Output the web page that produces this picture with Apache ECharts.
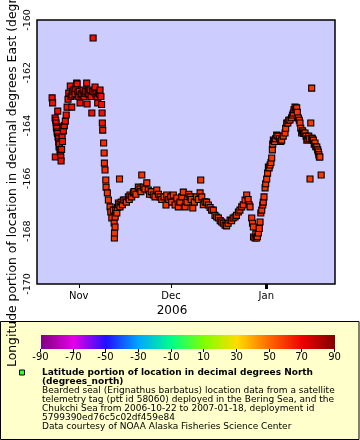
<!DOCTYPE html>
<html>
<head>
<meta charset="utf-8">
<script src="https://cdn.jsdelivr.net/npm/echarts@6/dist/echarts.min.js"></script>
<style>html,body{margin:0;padding:0;background:#fff}#c{width:360px;height:440px}</style>
</head>
<body>
<div id="c"></div>
<script>
// [time (UTC), longitude (deg E), latitude (deg N)]
const octFixes = [
['2006-10-23T08',-162.95,67],['2006-10-23T12',-163.14,67],['2006-10-24T07',-163.71,67],['2006-10-24T09',-165.19,67],
['2006-10-24T12',-163.80,67],['2006-10-24T15',-163.90,67],['2006-10-24T17',-164.05,67],['2006-10-24T19',-164.10,67],
['2006-10-24T23',-164.24,67],['2006-10-25T02',-164.30,67],['2006-10-25T04',-163.45,67],['2006-10-25T06',-164.43,67],
['2006-10-25T10',-164.50,67],['2006-10-25T12',-164.62,67],['2006-10-25T14',-164.81,67],['2006-10-25T17',-164.70,67],
['2006-10-25T22',-164.92,67],['2006-10-26T00',-165.00,67],['2006-10-26T04',-165.19,67],['2006-10-26T06',-165.34,67],
['2006-10-26T10',-164.90,67],['2006-10-26T14',-164.43,67],['2006-10-26T17',-164.60,67],['2006-10-26T21',-164.05,67],
['2006-10-27T00',-164.20,67],['2006-10-27T07',-164.00,67],['2006-10-27T15',-163.83,67],['2006-10-27T22',-163.60,67],
['2006-10-28T05',-163.30,67],['2006-10-28T12',-163.00,67],['2006-10-28T18',-162.77,67],['2006-10-29T06',-162.50,67],
['2006-10-29T12',-162.90,67],['2006-10-29T17',-163.30,67],['2006-10-29T20',-162.84,67],['2006-10-30T00',-162.70,67],
['2006-10-30T11',-162.65,67],['2006-10-30T19',-162.80,67],['2006-10-31T00',-162.60,67],['2006-10-31T08',-162.39,67],
['2006-10-31T11',-162.42,67],['2006-10-31T18',-162.73,67]
];
const novFixes = [
['2006-11-01T00',-162.90,67],['2006-11-01T05',-162.70,67],['2006-11-01T10',-163.14,67],['2006-11-01T18',-162.84,67],
['2006-11-02T00',-162.80,67],['2006-11-02T10',-162.65,67],['2006-11-02T17',-162.90,67],['2006-11-03T01',-162.77,67],
['2006-11-03T07',-162.70,67],['2006-11-03T14',-162.39,67],['2006-11-03T17',-163.18,67],['2006-11-04T00',-162.73,67],
['2006-11-04T07',-162.80,67],['2006-11-04T16',-162.65,67],['2006-11-05T00',-162.90,67],['2006-11-05T06',-163.52,67],
['2006-11-05T10',-162.70,67],['2006-11-05T16',-160.68,67],['2006-11-05T23',-162.73,67],['2006-11-06T07',-162.54,67],
['2006-11-06T14',-162.80,67],['2006-11-07T00',-162.90,67],['2006-11-07T04',-163.14,67],['2006-11-07T12',-162.77,67],
['2006-11-07T17',-162.80,67],['2006-11-07T22',-162.65,67],['2006-11-08T05',-162.90,67],['2006-11-08T10',-163.20,67],
['2006-11-08T14',-163.52,67],['2006-11-08T16',-163.90,66],['2006-11-08T19',-164.17,65],['2006-11-09T02',-164.66,61],
['2006-11-09T06',-165.04,61],['2006-11-09T08',-165.42,61],['2006-11-09T13',-165.68,61],['2006-11-09T19',-166.06,60],
['2006-11-09T21',-166.33,60],['2006-11-10T07',-166.55,60],['2006-11-10T15',-166.82,60],['2006-11-11T04',-167.08,60],
['2006-11-11T10',-167.27,60],['2006-11-11T18',-167.50,60],['2006-11-12T06',-167.20,60],['2006-11-12T12',-167.69,60],
['2006-11-12T14',-168.26,60],['2006-11-12T15',-168.07,60],['2006-11-12T19',-167.84,60],['2006-11-12T20',-167.46,60],
['2006-11-13T00',-167.20,60],['2006-11-13T09',-167.31,60],['2006-11-13T14',-167.10,60],['2006-11-13T21',-166.93,60],
['2006-11-14T00',-167.00,60],['2006-11-14T06',-166.02,60],['2006-11-14T10',-167.08,60],['2006-11-14T19',-166.90,60],
['2006-11-15T05',-167.00,60],['2006-11-15T12',-166.82,60],['2006-11-16T01',-166.82,60],['2006-11-16T12',-166.90,60],
['2006-11-17T03',-166.70,60],['2006-11-17T10',-166.80,60],['2006-11-17T16',-166.63,60],['2006-11-18T05',-166.70,60],
['2006-11-18T18',-166.55,60],['2006-11-19T00',-166.50,60],['2006-11-19T14',-166.60,60],['2006-11-20T09',-166.33,60],
['2006-11-20T22',-166.40,60],['2006-11-21T05',-166.50,60],['2006-11-21T12',-165.87,60],['2006-11-22T00',-166.33,60],
['2006-11-22T12',-166.40,60],['2006-11-23T03',-166.17,60],['2006-11-23T15',-166.44,60],['2006-11-24T00',-166.60,60],
['2006-11-24T14',-166.50,60],['2006-11-25T06',-166.63,60],['2006-11-25T19',-166.70,60],['2006-11-26T09',-166.44,60],
['2006-11-26T22',-166.60,60],['2006-11-27T11',-166.70,60],['2006-11-28T00',-166.80,60],['2006-11-28T17',-166.70,60],
['2006-11-29T09',-167.01,60],['2006-11-29T15',-166.63,60],['2006-11-30T07',-166.80,60],['2006-11-30T22',-166.70,60]
];
const decFixes = [
['2006-12-01T05',-166.90,60],['2006-12-01T18',-166.63,60],['2006-12-02T08',-167.01,60],['2006-12-02T21',-166.74,60],
['2006-12-03T09',-167.08,60],['2006-12-03T22',-166.90,60],['2006-12-04T12',-166.70,60],['2006-12-05T00',-166.52,60],
['2006-12-05T14',-167.08,60],['2006-12-06T05',-166.90,60],['2006-12-06T19',-166.60,60],['2006-12-07T05',-166.70,60],
['2006-12-07T14',-166.80,60],['2006-12-08T02',-167.12,60],['2006-12-08T14',-166.90,60],['2006-12-09T07',-166.70,60],
['2006-12-09T22',-166.80,60],['2006-12-10T11',-166.55,60],['2006-12-10T16',-166.06,60],['2006-12-11T00',-166.70,60],
['2006-12-11T12',-167.00,60],['2006-12-12T02',-166.89,60],['2006-12-12T14',-166.90,60],['2006-12-13T04',-167.01,60],
['2006-12-13T17',-167.10,60],['2006-12-14T05',-167.20,60],['2006-12-14T18',-167.20,60],['2006-12-15T07',-167.40,60],
['2006-12-15T21',-167.46,60],['2006-12-16T10',-167.50,60],['2006-12-17T00',-167.60,60],['2006-12-17T12',-167.65,60],
['2006-12-18T00',-167.70,60],['2006-12-18T14',-167.77,60],['2006-12-19T02',-167.80,60],['2006-12-19T14',-167.70,60],
['2006-12-20T05',-167.58,60],['2006-12-20T17',-167.60,60],['2006-12-21T05',-167.50,60],['2006-12-21T20',-167.46,60],
['2006-12-22T07',-167.40,60],['2006-12-22T22',-167.27,60],['2006-12-23T10',-167.20,60],['2006-12-24T00',-167.08,60],
['2006-12-24T12',-167.00,60],['2006-12-25T02',-166.82,60],['2006-12-25T15',-166.63,60],['2006-12-26T02',-166.80,60],
['2006-12-26T10',-167.00,60],['2006-12-26T17',-167.08,60],['2006-12-27T06',-167.50,60],['2006-12-27T12',-167.70,60],
['2006-12-27T19',-167.84,60],['2006-12-27T20',-168.22,60],['2006-12-28T08',-168.26,60],['2006-12-28T14',-168.10,60],
['2006-12-28T21',-168.26,60],['2006-12-29T02',-168.20,60],['2006-12-29T10',-168.07,60],['2006-12-29T17',-167.90,60],
['2006-12-29T23',-167.65,60],['2006-12-30T05',-167.31,60],['2006-12-30T12',-167.20,60],['2006-12-30T20',-167.01,60],
['2006-12-31T00',-166.90,60],['2006-12-31T06',-166.70,60],['2006-12-31T14',-166.36,60],['2006-12-31T19',-166.20,60]
];
const janFixes = [
['2007-01-01T03',-166.02,59],['2007-01-01T10',-165.80,59],['2007-01-01T16',-165.57,59],['2007-01-01T22',-165.60,59],
['2007-01-02T05',-165.49,59],['2007-01-02T12',-165.40,59],['2007-01-02T18',-165.23,59],['2007-01-02T23',-164.92,59],
['2007-01-03T02',-164.70,59],['2007-01-03T07',-164.55,59],['2007-01-03T17',-164.60,59],['2007-01-04T00',-164.50,59],
['2007-01-04T09',-164.36,59],['2007-01-04T19',-164.40,59],['2007-01-05T07',-164.50,59],['2007-01-05T17',-164.60,59],
['2007-01-06T00',-164.55,59],['2007-01-06T12',-164.40,59],['2007-01-07T02',-164.28,59],['2007-01-07T07',-164.10,59],
['2007-01-07T15',-163.90,59],['2007-01-08T00',-163.90,59],['2007-01-08T07',-163.80,59],['2007-01-08T17',-163.79,59],
['2007-01-09T05',-163.70,59],['2007-01-09T12',-163.60,59],['2007-01-09T19',-163.52,59],['2007-01-10T00',-163.40,59],
['2007-01-10T08',-163.30,59],['2007-01-10T14',-163.40,59],['2007-01-10T21',-163.33,59],['2007-01-11T02',-163.50,59],
['2007-01-11T10',-163.71,59],['2007-01-11T17',-163.80,59],['2007-01-11T23',-163.90,59],['2007-01-12T05',-164.10,59],
['2007-01-12T12',-164.28,59],['2007-01-12T19',-164.20,59],['2007-01-13T01',-164.28,59],['2007-01-13T07',-164.30,59],
['2007-01-13T14',-164.28,59],['2007-01-13T22',-164.40,59],['2007-01-14T04',-164.55,59],['2007-01-14T12',-164.50,59],
['2007-01-14T19',-164.40,59],['2007-01-15T02',-164.50,59],['2007-01-15T05',-166.02,59],['2007-01-15T11',-163.90,59],
['2007-01-15T18',-162.58,59],['2007-01-15T19',-164.47,59],['2007-01-16T00',-164.50,59],['2007-01-16T07',-164.55,59],
['2007-01-16T14',-164.70,59],['2007-01-16T20',-164.66,59],['2007-01-17T02',-164.80,59],['2007-01-17T10',-164.81,59],
['2007-01-17T17',-164.92,59],['2007-01-17T22',-165.00,59],['2007-01-18T02',-165.10,59],['2007-01-18T06',-165.19,59],
['2007-01-18T10',-165.19,59],['2007-01-18T20',-165.87,59]
];
const monthTicks = ['2006-11-01', '2006-12-01', '2007-01-01'];
const yearTicks = ['2007-01-01'];
const monthNames = ['Jan','Feb','Mar','Apr','May','Jun','Jul','Aug','Sep','Oct','Nov','Dec'];
const yTicks = { min: -170, max: -160, step: 2 };
const colorbarTicks = [-90, -70, -50, -30, -10, 10, 30, 50, 70, 90];
const paletteColors = ['#800080','#e600e6','#2010ff','#00a8ff','#00ff88','#80ff00','#ffdd00','#ff6600','#ee0000','#800000'];
const xAxisTitle = '2006';
const yAxisTitle = 'Longitude portion of location in decimal degrees East (degrees_east)';
const legendTitle = ['Latitude portion of location in decimal degrees North', '(degrees_north)'];
const legendLines = [
  'Bearded seal (Erignathus barbatus) location data from a satellite',
  'telemetry tag (ptt id 58060) deployed in the Bering Sea, and the',
  'Chukchi Sea from 2006-10-22 to 2007-01-18, deployment id',
  '5799390ed76c5c02df459e84',
  'Data courtesy of NOAA Alaska Fisheries Science Center'
];

const FONT = 'DejaVu Sans';
const toMs = s => new Date(s.length === 10 ? s + 'T00:00Z' : s + ':00Z').getTime();
const points = [].concat(octFixes, novFixes, decFixes, janFixes).map(d => [toMs(d[0]), d[1], d[2]]);
const tickMs = monthTicks.map(toMs);
const yearMs = yearTicks.map(toMs);
const xMin = toMs('2006-10-18T10'), xMax = toMs('2007-01-23T08');

const chart = echarts.init(document.getElementById('c'), null, { renderer: 'canvas' });

// colorbar geometry (layout only)
const cb = { x: 41, y: 335, w: 294, h: 14 };
const graphics = [];
graphics.push({ type: 'rect', z: 1, shape: { x: 0.5, y: 321.5, width: 358.5, height: 118 },
  style: { fill: '#ffffcc', stroke: '#000', lineWidth: 1 } });
graphics.push({ type: 'rect', z: 2, shape: { x: cb.x, y: cb.y, width: cb.w, height: cb.h },
  style: { fill: new echarts.graphic.LinearGradient(0, 0, 1, 0,
    paletteColors.map((c, i) => ({ offset: i / (paletteColors.length - 1), color: c }))) } });
colorbarTicks.forEach(v => {
  const x = Math.round(cb.x + (v + 90) / 180 * cb.w) - 0.5;
  graphics.push({ type: 'line', z: 2, shape: { x1: x, y1: cb.y + cb.h, x2: x, y2: cb.y + cb.h + 3 },
    style: { stroke: '#000', lineWidth: 1 } });
  graphics.push({ type: 'text', z: 2, x: x, y: cb.y + cb.h + 8,
    style: { text: String(v), font: '10px "' + FONT + '"', fill: '#000', align: 'center', verticalAlign: 'middle' } });
});
graphics.push({ type: 'rect', z: 2, shape: { x: 19.5, y: 370, width: 5, height: 5 },
  style: { fill: '#33ff33', stroke: '#000', lineWidth: 1 } });
legendTitle.forEach((t, i) => {
  graphics.push({ type: 'text', z: 2, x: 42, y: 372.7 + i * 8.6,
    style: { text: t, font: 'bold 9px "' + FONT + '"', fill: '#000', align: 'left', verticalAlign: 'middle' } });
});
legendLines.forEach((t, i) => {
  graphics.push({ type: 'text', z: 2, x: 42, y: 390.8 + i * 9.0,
    style: { text: t, font: '9px "' + FONT + '"', fill: '#000', align: 'left', verticalAlign: 'middle' } });
});
graphics.push({ type: 'text', z: 10, x: 172, y: 311,
  style: { text: xAxisTitle, font: '12px "' + FONT + '"', fill: '#000', align: 'center', verticalAlign: 'middle' } });
graphics.push({ type: 'text', z: 10, x: 12.5, y: 367, rotation: Math.PI / 2,
  style: { text: yAxisTitle, font: '12.4px "' + FONT + '"', fill: '#000', align: 'left', verticalAlign: 'middle' } });

chart.setOption({
  animation: false,
  backgroundColor: '#ffffff',
  textStyle: { fontFamily: FONT },
  grid: { left: 37, right: 25, top: 20, bottom: 156, show: true, backgroundColor: '#ccccff',
    borderColor: '#000', borderWidth: 1.5 },
  xAxis: [{
    type: 'value', min: xMin, max: xMax, position: 'bottom',
    axisLine: { show: false },
    splitLine: { show: false },
    axisTick: { show: true, inside: false, length: 4, customValues: tickMs, lineStyle: { color: '#000', width: 1 } },
    axisLabel: { customValues: tickMs, margin: 7, fontSize: 10, color: '#000', fontFamily: FONT,
      formatter: v => monthNames[new Date(v).getUTCMonth()] }
  }, {
    type: 'value', min: xMin, max: xMax, position: 'bottom', offset: 0,
    axisLine: { show: false }, splitLine: { show: false },
    axisTick: { show: true, inside: false, length: 5, customValues: yearMs, lineStyle: { color: '#000', width: 3 } },
    axisLabel: { show: false }
  }],
  yAxis: {
    type: 'value', min: yTicks.min, max: yTicks.max, interval: yTicks.step,
    axisLine: { show: false }, axisTick: { show: false }, splitLine: { show: false },
    axisLabel: { rotate: 90, align: 'center', verticalAlign: 'bottom', margin: 4, fontSize: 9.5,
      color: '#000', fontFamily: FONT, showMinLabel: true, showMaxLabel: true }
  },
  visualMap: { type: 'continuous', show: false, dimension: 2, min: -90, max: 90, seriesIndex: 0,
    inRange: { color: paletteColors } },
  series: [{
    type: 'scatter', data: points, symbol: 'rect', symbolSize: 6, xAxisIndex: 0,
    encode: { x: 0, y: 1 },
    itemStyle: { borderColor: '#000', borderWidth: 1.1, opacity: 1 }
  }],
  graphic: { elements: graphics }
});
</script>
</body>
</html>
